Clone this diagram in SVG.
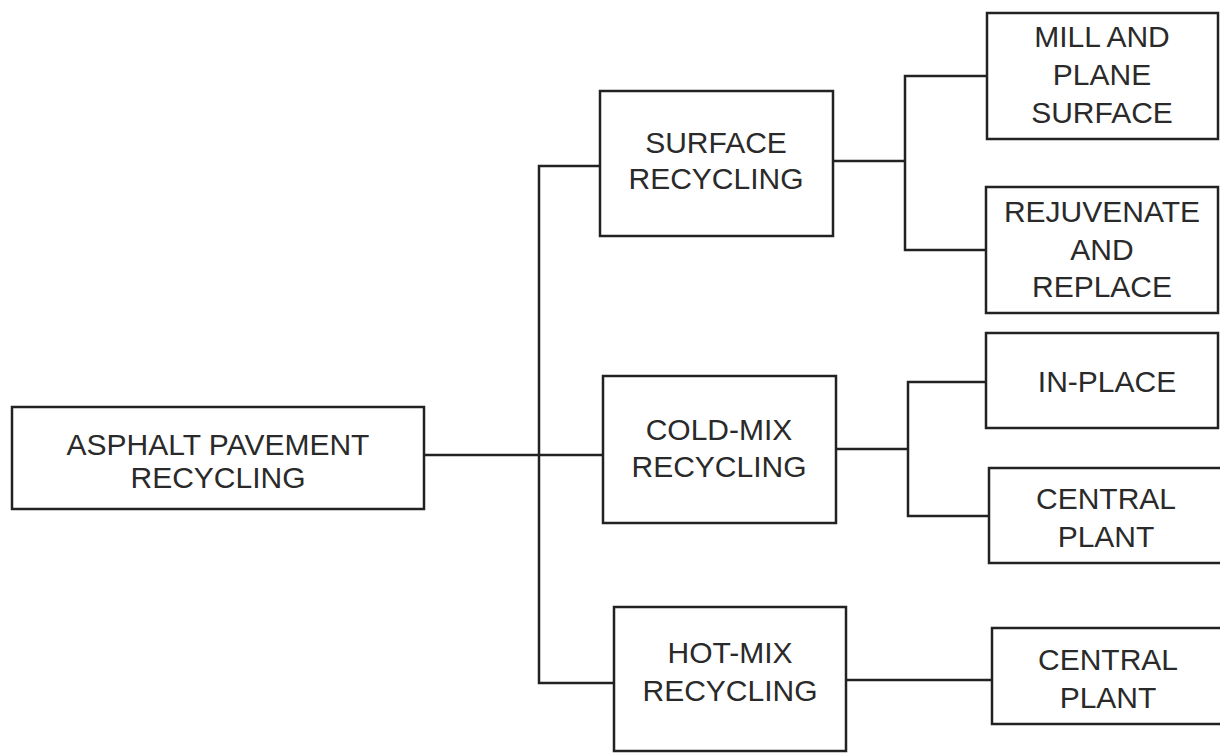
<svg xmlns="http://www.w3.org/2000/svg" width="1220" height="753" viewBox="0 0 1220 753">
<style>
.box{fill:none;stroke:#222;stroke-width:2.5}
.ln{fill:none;stroke:#222;stroke-width:2.5}
.t{font-family:"Liberation Sans",Arial,sans-serif;font-size:30px;fill:#2a2a2a;text-anchor:middle}
</style>
<rect width="1220" height="753" fill="#fff"/>
<g id="connectors">
<path class="ln" d="M424 455 H603"/>
<path class="ln" d="M600 166 H539 V683 H614"/>
<path class="ln" d="M833 161 H906"/>
<path class="ln" d="M987 76 H905 V250 H986"/>
<path class="ln" d="M836 449 H908"/>
<path class="ln" d="M986 382 H908 V516 H989"/>
<path class="ln" d="M846 680 H992"/>
</g>
<g id="root">
<rect class="box" x="12" y="407" width="412" height="102"/>
<text class="t" x="218" y="455">ASPHALT PAVEMENT</text>
<text class="t" x="218" y="488">RECYCLING</text>
</g>
<g id="surface">
<rect class="box" x="600" y="91" width="233" height="145"/>
<text class="t" x="716" y="153">SURFACE</text>
<text class="t" x="716" y="189">RECYCLING</text>
</g>
<g id="coldmix">
<rect class="box" x="603" y="376" width="233" height="147"/>
<text class="t" x="719" y="440">COLD-MIX</text>
<text class="t" x="719" y="477">RECYCLING</text>
</g>
<g id="hotmix">
<rect class="box" x="614" y="607" width="232" height="144"/>
<text class="t" x="730" y="663">HOT-MIX</text>
<text class="t" x="730" y="701">RECYCLING</text>
</g>
<g id="mill">
<rect class="box" x="987" y="13" width="231" height="126"/>
<text class="t" x="1102" y="47">MILL AND</text>
<text class="t" x="1102" y="85">PLANE</text>
<text class="t" x="1102" y="123">SURFACE</text>
</g>
<g id="rejuvenate">
<rect class="box" x="986" y="187" width="232" height="126"/>
<text class="t" x="1102" y="222">REJUVENATE</text>
<text class="t" x="1102" y="260">AND</text>
<text class="t" x="1102" y="297">REPLACE</text>
</g>
<g id="inplace">
<rect class="box" x="986" y="333" width="232" height="95"/>
<text class="t" x="1107" y="392">IN-PLACE</text>
</g>
<g id="central1">
<rect class="box" x="989" y="468" width="235" height="95"/>
<text class="t" x="1106" y="509">CENTRAL</text>
<text class="t" x="1106" y="547">PLANT</text>
</g>
<g id="central2">
<rect class="box" x="992" y="628" width="232" height="96"/>
<text class="t" x="1108" y="670">CENTRAL</text>
<text class="t" x="1108" y="708">PLANT</text>
</g>
</svg>
